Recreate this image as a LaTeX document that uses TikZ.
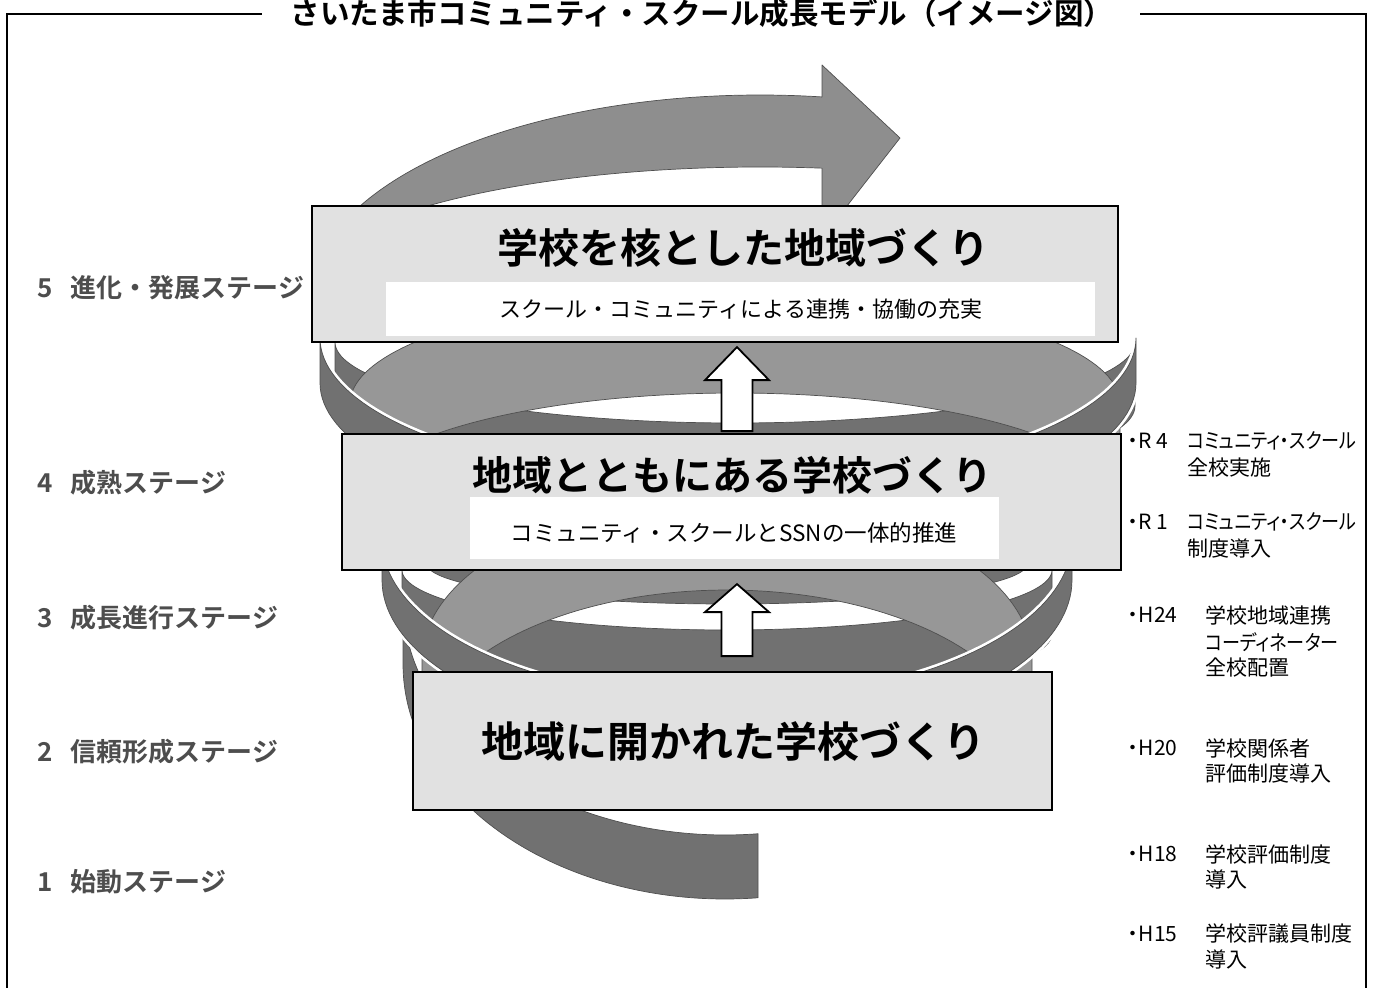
\documentclass[tikz,border=0pt]{standalone}
\usepackage{fontspec}
\setmainfont{Noto Sans CJK JP}[BoldFont={Noto Sans CJK JP Bold}]
\newfontfamily\listfont{Noto Sans CJK JP}[RawFeature=+palt]
\usetikzlibrary{calc}
\newcommand\fs[1]{\fontsize{#1}{#1}\selectfont}
\newcommand\narrow[1]{\scalebox{0.86}[1]{#1}}

\definecolor{bandlight}{HTML}{979797}
\definecolor{banddark}{HTML}{717171}
\definecolor{arrowgray}{HTML}{8E8E8E}
\definecolor{bandedge}{HTML}{4F4F4F}
\definecolor{boxfill}{HTML}{E1E1E1}
\definecolor{stagegray}{HTML}{4D4D4D}

% ribbon pieces of the spiral, built on half ellipses
% #1 cx, #2 cy, #3 a, #4 b, #5 ribbon height, #6 #7 angle range, #8 style
\newcommand\archband[8]{%
  \filldraw[#8] plot[domain=#6:#7,samples=90,variable=\p] ({#1+#3*cos(\p)},{#2-#4*sin(\p)})
    -- plot[domain=#6:#7,samples=90,variable=\p]
       ({#1+#3*cos(#6+#7-\p)},{#2-#4*sin(#6+#7-\p)+#5}) -- cycle;}
\newcommand\smileband[8]{%
  \filldraw[#8] plot[domain=#6:#7,samples=90,variable=\p] ({#1+#3*cos(\p)},{#2+#4*sin(\p)})
    -- plot[domain=#6:#7,samples=90,variable=\p]
       ({#1+#3*cos(#6+#7-\p)},{#2+#4*sin(#6+#7-\p)+#5}) -- cycle;}

% white block arrow pointing up: #1 base point, #2 total length, #3 head length
\newcommand\blockup[3]{%
  \filldraw[blockarr] ($(#1)+(-15.5,0)$) -- ++(0,{-(#2-#3)}) -- ++(-16.5,0)
    -- ($(#1)+(0,-#2)$) -- ($(#1)+(32,{-(#2-#3)})$) -- ++(-16.5,0)
    -- ($(#1)+(15.5,0)$) -- cycle;}

\begin{document}
\begin{tikzpicture}[x=1pt,y=-1pt,
  innerband/.style={fill=banddark,draw=bandedge,line width=0.7pt,line join=round},
  crossband/.style={fill=banddark,draw=bandedge,line width=0.7pt,line join=round,
    preaction={draw=white,line width=6pt}},
  outerband/.style={fill=bandlight,draw=bandedge,line width=0.7pt,line join=round},
  arrowband/.style={fill=arrowgray,draw=bandedge,line width=0.7pt,line join=round},
  frame/.style={draw=black,line width=2.4pt},
  stagebox/.style={draw=black,fill=boxfill,line width=1.8pt,inner sep=0pt},
  whitebar/.style={fill=white,draw=none,inner sep=0pt},
  boxtitle/.style={font=\bfseries\fs{41},inner sep=0pt},
  boxsub/.style={font=\fs{22},inner sep=0pt},
  stagelab/.style={font=\bfseries\fs{26},text=stagegray,anchor=west,inner sep=0pt},
  listitem/.style={font=\listfont\fs{21},anchor=west,inner sep=0pt},
  blockarr/.style={fill=white,draw=black,line width=1.8pt,line join=miter},
]
\useasboundingbox (0,0) rectangle (1374,988);

% ---- spiral ----
% far faces lying behind everything
\smileband{725}{600}{322}{235}{64}{84.1}{180}{innerband}   % lowest turn, loose end
\smileband{727}{500}{300}{40}{64}{0}{180}{innerband}
\smileband{727}{570}{325}{60}{64}{0}{180}{innerband}
\smileband{735}{342}{400}{81}{64}{0}{180}{innerband}
% near faces of the turns
\archband{727}{660}{305}{160}{90}{0}{180}{outerband}
\archband{735}{403.6}{385}{110.6}{100}{0}{180}{outerband}
% top turn ending in the arrow head
\coordinate (ahtop) at (822,65);
\coordinate (ahtip) at (900,138);
\coordinate (ahbot) at (822,238);
\filldraw[arrowband]
  plot[domain=330:822,samples=100,variable=\x]
    (\x,{300-205*sqrt(1-((\x-760)/450)*((\x-760)/450))})
  -- (ahtop) -- (ahtip) -- (ahbot)
  -- plot[domain=330:822,samples=100,variable=\x]
    ({1152-\x},{300-133*sqrt(1-((392-\x)/470)*((392-\x)/470))}) -- cycle;
% steep far faces crossing in front near the sides
\smileband{727}{540}{345}{160}{40}{0}{180}{crossband}
\smileband{728}{338}{408}{145}{45}{0}{180}{crossband}

% ---- frame and title ----
\node[font=\bfseries\fs{29.5},inner sep=0pt] (title) at (702,13)
  {さいたま市コミュニティ・スクール成長モデル（イメージ図）};
\draw[frame] (7,988) -- (7,14) -- (262,14);
\draw[frame] (1140,14) -- (1366,14) -- (1366,988);

% ---- stage boxes ----
\node[stagebox,minimum width=806pt,minimum height=136pt] (b5) at (715,274) {};
\node[whitebar,minimum width=709pt,minimum height=54pt] (w5) at (740.5,309) {};
\node[boxtitle] (t5) at (743,248) {学校を核とした地域づくり};
\node[boxsub] (s5) at (741,309) {スクール・コミュニティによる連携・協働の充実};

\node[stagebox,minimum width=779pt,minimum height=136pt] (b4) at (731.5,502) {};
\node[whitebar,minimum width=529pt,minimum height=62pt] (w4) at (734.5,528) {};
\node[boxtitle,font=\bfseries\fs{40}] (t4) at (732,475) {地域とともにある学校づくり};
\node[boxsub,font=\fs{22.5}] (s4) at (734,533) {コミュニティ・スクールとSSNの一体的推進};

\node[stagebox,minimum width=639pt,minimum height=138pt] (b1) at (732.5,741) {};
\node[boxtitle,font=\bfseries\fs{42}] (t1) at (733,741) {地域に開かれた学校づくり};

% ---- upward block arrows between the boxes ----
\coordinate (upA) at ($(b4.north)+(5.5,-2)$);
\coordinate (upB) at ($(b1.north)+(4.5,-15)$);
\blockup{upA}{84}{33}
\blockup{upB}{72}{28}

% ---- stage labels ----
\node[stagelab] (l5) at (37,288) {5\hspace{18pt}進化・発展ステージ};
\node[stagelab] (l4) at (37,483) {4\hspace{18pt}成熟ステージ};
\node[stagelab] (l3) at (37,618) {3\hspace{18pt}成長進行ステージ};
\node[stagelab] (l2) at (37,752) {2\hspace{18pt}信頼形成ステージ};
\node[stagelab] (l1) at (37,882) {1\hspace{18pt}始動ステージ};

% ---- milestones ----
\node[listitem] (m1a) at (1128,441) {・R 4};
\node[listitem] (m1b) at (1187,441) {\narrow{コミュニティ・スクール}};
\node[listitem] (m1c) at (1187,468) {全校実施};
\node[listitem] (m2a) at (1128,522) {・R 1};
\node[listitem] (m2b) at (1187,522) {\narrow{コミュニティ・スクール}};
\node[listitem] (m2c) at (1187,549) {制度導入};
\node[listitem] (m3a) at (1128,615) {・H24};
\node[listitem] (m3b) at (1205,615) {学校地域連携};
\node[listitem] (m3c) at (1205,642) {\narrow{コーディネーター}};
\node[listitem] (m3d) at (1205,668) {全校配置};
\node[listitem] (m4a) at (1128,748) {・H20};
\node[listitem] (m4b) at (1205,748) {学校関係者};
\node[listitem] (m4c) at (1205,774) {評価制度導入};
\node[listitem] (m5a) at (1128,854) {・H18};
\node[listitem] (m5b) at (1205,854) {学校評価制度};
\node[listitem] (m5c) at (1205,879) {導入};
\node[listitem] (m6a) at (1128,934) {・H15};
\node[listitem] (m6b) at (1205,934) {学校評議員制度};
\node[listitem] (m6c) at (1205,959) {導入};
\end{tikzpicture}
\end{document}
